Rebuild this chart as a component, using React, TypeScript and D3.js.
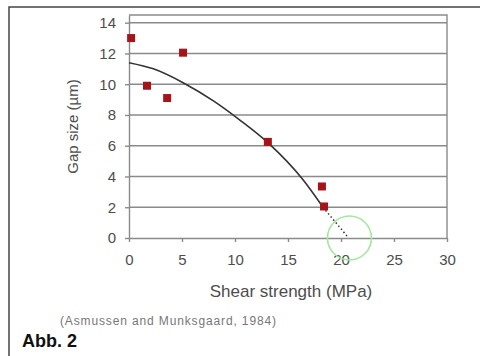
import React, { useEffect, useRef } from "react";
import * as d3 from "d3";

// measured points (shear strength MPa, gap size µm)
const shearVals = [0.2, 1.7, 3.6, 5.1, 13.1, 18.2, 18.4];
const gapVals = [13.0, 9.9, 9.1, 12.05, 6.25, 3.35, 2.05];

// fitted trend
const fitX = [0, 2.3, 5.1, 8.0, 10.4, 13.1, 16.4, 18.3];
const fitY = [11.4, 11.0, 10.1, 8.9, 7.7, 6.2, 3.8, 2.0];
// dotted extrapolation
const extX = [18.3, 20.6];
const extY = [2.0, 0.1];

const xTicks = [0, 5, 10, 15, 20, 25, 30];
const yTicks = [0, 2, 4, 6, 8, 10, 12, 14];

export default function App() {
  const ref = useRef<SVGSVGElement>(null);

  useEffect(() => {
    const svg = d3.select(ref.current);
    svg.selectAll("*").remove();

    const x = d3.scaleLinear().domain([0, 30]).range([129, 447]);
    const y = d3.scaleLinear().domain([0, 14.5]).range([238, 15]);
    const grey = "#8a8a8a";
    const txt = "#4d4d4d";

    // outer frame (top + left only)
    svg.append("path")
      .attr("d", "M9,356 L9,7 L480,7")
      .attr("fill", "none")
      .attr("stroke", "#444")
      .attr("stroke-width", 1.5);

    // gridlines
    svg.append("g")
      .selectAll("line")
      .data(yTicks.filter(d => d > 0))
      .enter()
      .append("line")
      .attr("x1", x(0))
      .attr("x2", x(30))
      .attr("y1", d => y(d))
      .attr("y2", d => y(d))
      .attr("stroke", grey)
      .attr("stroke-width", 1.4);

    // plot frame top + right
    svg.append("path")
      .attr("d", `M${x(0)},${y(14.5)} L${x(30)},${y(14.5)} L${x(30)},${y(0)}`)
      .attr("fill", "none")
      .attr("stroke", grey)
      .attr("stroke-width", 1.4);

    // y axis
    const yAxis = svg.append("g")
      .attr("transform", `translate(${x(0)},0)`)
      .call(d3.axisLeft(y).tickValues(yTicks).tickSize(4).tickPadding(9).tickSizeOuter(0));
    yAxis.select(".domain").attr("stroke", grey).attr("stroke-width", 1.4);
    yAxis.selectAll(".tick line").attr("stroke", grey).attr("stroke-width", 1.4);
    yAxis.selectAll("text")
      .attr("fill", txt)
      .style("font-family", "Liberation Sans, Arial, sans-serif")
      .style("font-size", "15px");

    // x axis
    const xAxis = svg.append("g")
      .attr("transform", `translate(0,${y(0)})`)
      .call(d3.axisBottom(x).tickValues(xTicks).tickSize(4).tickPadding(12).tickSizeOuter(0));
    xAxis.select(".domain").attr("stroke", grey).attr("stroke-width", 1.4);
    xAxis.selectAll(".tick line").attr("stroke", grey).attr("stroke-width", 1.4);
    xAxis.selectAll("text")
      .attr("fill", txt)
      .style("font-family", "Liberation Sans, Arial, sans-serif")
      .style("font-size", "15px");

    // trend line
    const line = d3.line<number>()
      .x((d, i) => x(fitX[i]))
      .y(d => y(d))
      .curve(d3.curveMonotoneX);
    svg.append("path")
      .datum(fitY)
      .attr("d", line)
      .attr("fill", "none")
      .attr("stroke", "#333")
      .attr("stroke-width", 1.6);

    const ext = d3.line<number>()
      .x((d, i) => x(extX[i]))
      .y(d => y(d));
    svg.append("path")
      .datum(extY)
      .attr("d", ext)
      .attr("fill", "none")
      .attr("stroke", "#333")
      .attr("stroke-width", 1.5)
      .attr("stroke-dasharray", "1.5,2.5");

    // markers
    svg.append("g")
      .selectAll("rect")
      .data(shearVals)
      .enter()
      .append("rect")
      .attr("x", d => x(d) - 4)
      .attr("y", (d, i) => y(gapVals[i]) - 4)
      .attr("width", 8)
      .attr("height", 8)
      .attr("fill", "#a3151a");

    // green circle
    svg.append("circle")
      .attr("cx", x(20.8))
      .attr("cy", y(0))
      .attr("r", 22)
      .attr("fill", "none")
      .attr("stroke", "#a6e6a0")
      .attr("stroke-width", 1.6);

    // axis titles
    svg.append("text")
      .attr("transform", `translate(78,${(y(0) + y(14.5)) / 2}) rotate(-90)`)
      .attr("text-anchor", "middle")
      .attr("fill", txt)
      .style("font-family", "Liberation Sans, Arial, sans-serif")
      .style("font-size", "15px")
      .text("Gap size (µm)");

    svg.append("text")
      .attr("x", 291)
      .attr("y", 297)
      .attr("text-anchor", "middle")
      .attr("fill", txt)
      .style("font-family", "Liberation Sans, Arial, sans-serif")
      .style("font-size", "17px")
      .text("Shear strength (MPa)");

    svg.append("text")
      .attr("x", 60)
      .attr("y", 325)
      .attr("textLength", 216)
      .attr("fill", "#777")
      .style("font-family", "Liberation Sans, Arial, sans-serif")
      .style("font-size", "12px")
      .text("(Asmussen and Munksgaard, 1984)");

    svg.append("text")
      .attr("x", 22)
      .attr("y", 347)
      .attr("fill", "#111")
      .style("font-family", "Liberation Sans Narrow, Arial Narrow, sans-serif")
      .style("font-weight", "bold")
      .style("font-size", "18px")
      .text("Abb. 2");
  }, []);

  return (
    <svg
      ref={ref}
      width={480}
      height={356}
      style={{ position: "absolute", left: 0, top: 0, background: "#fff" }}
    />
  );
}
